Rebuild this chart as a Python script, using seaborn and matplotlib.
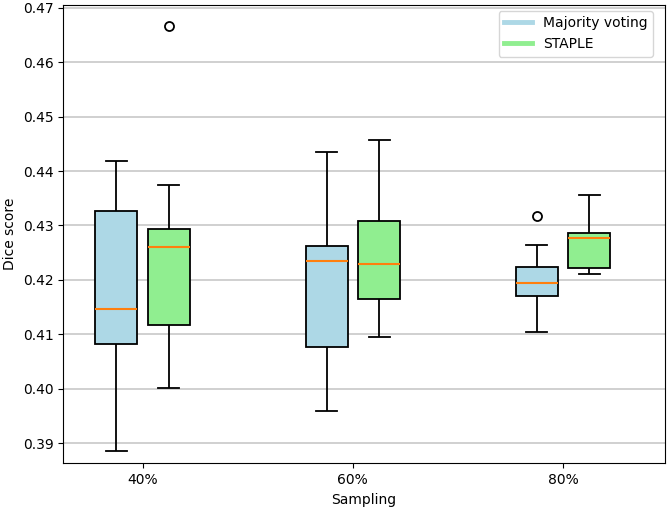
import pandas as pd
import matplotlib
matplotlib.use("Agg")
import matplotlib.pyplot as plt
import seaborn as sns
from matplotlib.lines import Line2D

# Dice scores per sampling rate and fusion method
sampling = ["40%", "60%", "80%"]
methods = ["Majority voting", "STAPLE"]

mv_40 = [0.3885, 0.4012, 0.4083, 0.4120, 0.4146, 0.4231, 0.4326, 0.4380, 0.4418]
staple_40 = [0.4002, 0.4060, 0.4117, 0.4190, 0.4261, 0.4275, 0.4293, 0.4375, 0.4666]
mv_60 = [0.3959, 0.4025, 0.4077, 0.4170, 0.4234, 0.4250, 0.4263, 0.4350, 0.4436]
staple_60 = [0.4095, 0.4130, 0.4165, 0.4200, 0.4230, 0.4270, 0.4309, 0.4390, 0.4457]
mv_80 = [0.4105, 0.4140, 0.4170, 0.4182, 0.4194, 0.4210, 0.4224, 0.4264, 0.4317]
staple_80 = [0.4210, 0.4216, 0.4222, 0.4250, 0.4277, 0.4281, 0.4286, 0.4320, 0.4356]

colors = {"Majority voting": "lightblue", "STAPLE": "lightgreen"}

groups = [
    ("40%", "Majority voting", mv_40),
    ("40%", "STAPLE", staple_40),
    ("60%", "Majority voting", mv_60),
    ("60%", "STAPLE", staple_60),
    ("80%", "Majority voting", mv_80),
    ("80%", "STAPLE", staple_80),
]
rows = []
for s, m, vals in groups:
    for v in vals:
        rows.append({"Sampling": s, "Method": m, "Dice": v})
df = pd.DataFrame(rows)

fig, ax = plt.subplots(figsize=(6.69, 5.17), dpi=100)
fig.subplots_adjust(left=0.0946, right=0.994, bottom=0.104, top=0.990)

sns.boxplot(
    data=df, x="Sampling", y="Dice", hue="Method",
    order=sampling, hue_order=methods, palette=colors,
    saturation=1, width=0.5, gap=0.2, linecolor="black", linewidth=1.3,
    medianprops=dict(color="#ff7f0e", linewidth=1.5),
    flierprops=dict(marker="o", markerfacecolor="none", markeredgecolor="black",
                    markersize=6.5, markeredgewidth=1.3),
    legend=False, ax=ax,
)

ax.set_axisbelow(True)
ax.yaxis.grid(True, color="#c4c4c4", linewidth=1.1)
ax.set_yticks([0.39, 0.40, 0.41, 0.42, 0.43, 0.44, 0.45, 0.46, 0.47])
ax.set_yticklabels(["0.39", "0.40", "0.41", "0.42", "0.43", "0.44", "0.45", "0.46", "0.47"])
ax.set_ylim(0.3863, 0.4705)
ax.set_xlim(-0.378, 2.486)
ax.set_xlabel("Sampling")
ax.set_ylabel("Dice score")
for sp in ax.spines.values():
    sp.set_visible(True)
    sp.set_color("black")

handles = [Line2D([0], [0], color=colors[m], lw=3.5) for m in methods]
ax.legend(handles, methods, loc="upper right", bbox_to_anchor=(0.992, 1.003))

plt.savefig("out.png", dpi=100)
